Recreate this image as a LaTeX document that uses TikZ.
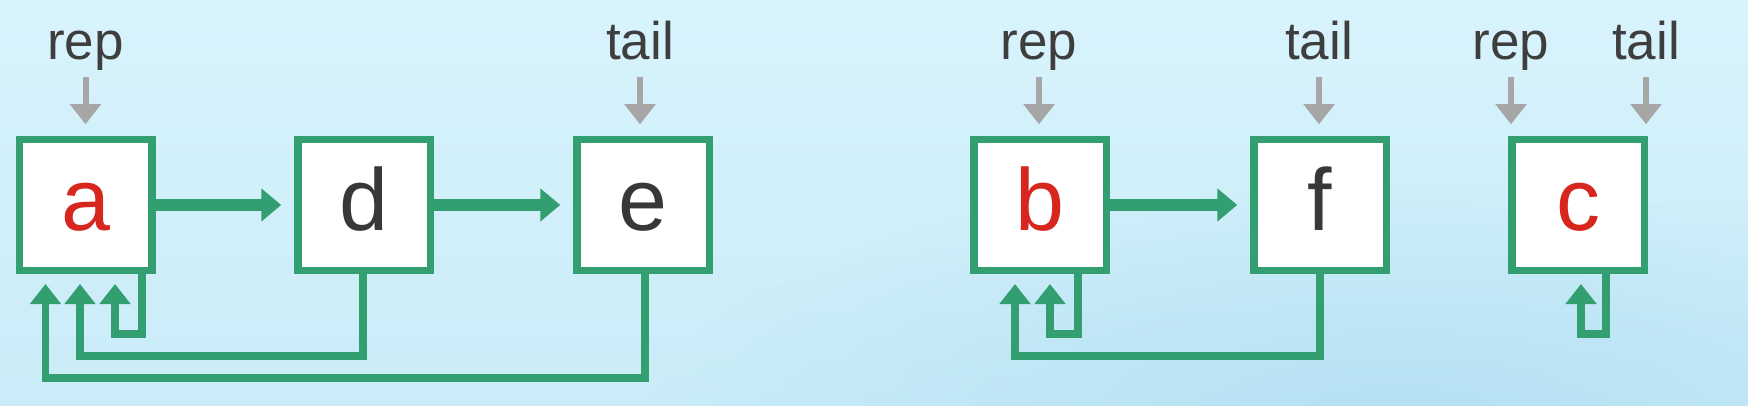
\documentclass[tikz,border=0pt]{standalone}
\usepackage{fontspec}
\setmainfont{Liberation Sans}
\usetikzlibrary{arrows.meta,calc,fadings}
\definecolor{gr}{HTML}{339E70}
\definecolor{rd}{HTML}{D7261D}
\definecolor{dk}{HTML}{383838}
\definecolor{txt}{HTML}{3E3E3E}
\definecolor{grayA}{HTML}{A6A6A6}
\definecolor{bgT}{HTML}{D8F3FC}
\definecolor{bgB}{HTML}{C9ECF8}
\definecolor{bgD}{HTML}{B0DEF2}
\tikzfading[name=blob, inner color=transparent!15, outer color=transparent!100]
\begin{document}
\begin{tikzpicture}[x=1pt,y=-1pt,
  box/.style={draw=gr,line width=7.5pt,fill=white,minimum width=132.5pt,minimum height=130.5pt,inner sep=0pt,text height=50pt,text depth=0pt,font=\fontsize{88}{88}\selectfont},
  lbl/.style={anchor=base,inner sep=0pt,text depth=0pt,text=txt,font=\fontsize{53}{53}\selectfont},
  ptr/.style={draw=grayA,line width=6pt,-{Triangle[width=30pt,length=20pt]}},
  link/.style={draw=gr,line width=12pt,-{Triangle[width=32pt,length=20pt]}},
  back/.style={draw=gr,line width=7.5pt,-{Triangle[width=30pt,length=20pt]}}]
\useasboundingbox (0,0) rectangle (1748,406);
% background
\begin{scope}
\clip (0,0) rectangle (1748,406);
\shade[top color=bgT, bottom color=bgB] (0,0) rectangle (1748,406);
\fill[bgD, path fading=blob] (1400,430) ellipse (750 and 260);
\end{scope}
% boxes
\node[box,text=rd] (a) at (85.5,205) {a};
\node[box,text=dk] (d) at (364,205) {d};
\node[box,text=dk] (e) at (643,205) {e};
\node[box,text=rd] (b) at (1040,205) {b};
\node[box,text=dk] (f) at (1320,205) {f};
\node[box,text=rd] (c) at (1578,205) {c};
% labels
\node[lbl] (r1) at (85.5,60) {rep};
\node[lbl] (t1) at (640,60) {tail};
\node[lbl] (r2) at (1039,60) {rep};
\node[lbl] (t2) at (1319,60) {tail};
\node[lbl] (r3) at (1511,60) {rep};
\node[lbl] (t3) at (1646,60) {tail};
% pointers
\foreach \l/\n in {r1/a,t1/e,r2/b,t2/f,r3/c,t3/c}
  \draw[ptr] ($(\l.south)+(0,17)$) -- ($(\l.south |- \n.north)+(0,-11.75)$);
% forward links
\draw[link] (a.east) -- ($(d.west)+(-12.75,0)$);
\draw[link] (d.east) -- ($(e.west)+(-12.75,0)$);
\draw[link] (b.east) -- ($(f.west)+(-12.75,0)$);
% back links
\draw[back] ($(a.south)+(56.5,0)$) -- ++(0,60) -| ($(a.south)+(29.5,10)$);
\draw[back] ($(d.south)+(-1,0)$) -- ++(0,82) -| ($(a.south)+(-5.5,10)$);
\draw[back] ($(e.south)+(2,0)$) -- ++(0,104) -| ($(a.south)+(-40,10)$);
\draw[back] ($(b.south)+(38,0)$) -- ++(0,60) -| ($(b.south)+(10,10)$);
\draw[back] (f.south) -- ++(0,82) -| ($(b.south)+(-25,10)$);
\draw[back] ($(c.south)+(28,0)$) -- ++(0,60) -| ($(c.south)+(3,10)$);
\end{tikzpicture}
\end{document}
